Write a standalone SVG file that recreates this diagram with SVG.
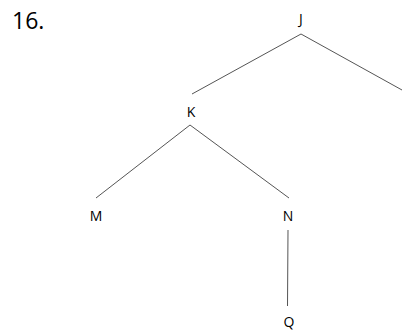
<svg xmlns="http://www.w3.org/2000/svg" width="402" height="332" viewBox="0 0 402 332">
<style>
.lbl{font-family:"Open Sans","Liberation Sans",sans-serif;font-size:14px;fill:#000;text-anchor:middle}
.num{font-family:"Open Sans","Liberation Sans",sans-serif;font-size:23px;fill:#000}
.edge{stroke:#555;stroke-width:1;fill:none}
</style>
<rect width="402" height="332" fill="#fff"/>
<text class="num" x="12" y="29">16.</text>
<g id="connectors">
<line class="edge" x1="301" y1="34" x2="192" y2="94"/>
<line class="edge" x1="301" y1="34" x2="402" y2="90"/>
<line class="edge" x1="190" y1="125" x2="96" y2="198"/>
<line class="edge" x1="190" y1="125" x2="289" y2="198"/>
<line class="edge" x1="288" y1="230" x2="287.5" y2="306"/>
</g>
<g id="J"><text class="lbl" x="301" y="24">J</text></g>
<g id="K"><text class="lbl" x="191" y="117">K</text></g>
<g id="M"><text class="lbl" x="96" y="221">M</text></g>
<g id="N"><text class="lbl" x="288" y="221">N</text></g>
<g id="Q"><text class="lbl" x="289" y="327">Q</text></g>
</svg>
